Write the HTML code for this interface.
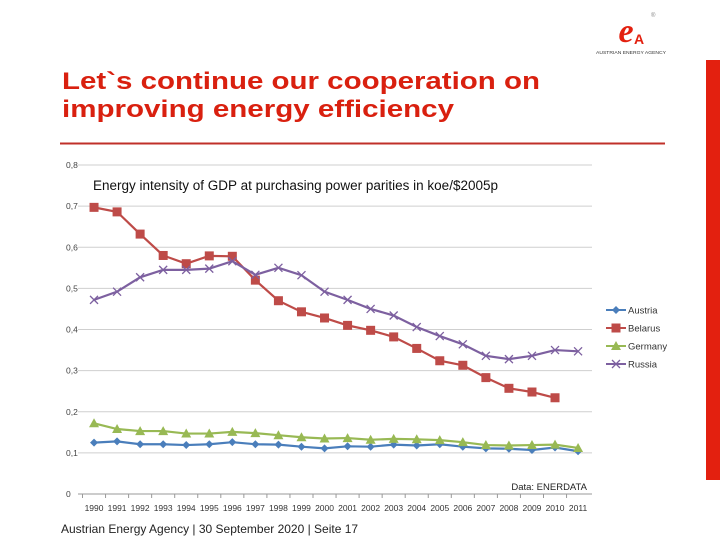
<!DOCTYPE html>
<html><head><meta charset="utf-8"><style>
html,body{margin:0;padding:0;background:#fff;}
svg{display:block;font-family:"Liberation Sans",sans-serif;}
</style></head><body>
<svg id="chart" width="720" height="540" viewBox="0 0 720 540">
  <rect x="706" y="60" width="14" height="420" fill="#e3200f"/>
  <g>
    <text x="626" y="42" font-family="Liberation Serif,serif" font-style="italic" font-weight="bold" font-size="34" fill="#e3200f" text-anchor="middle">e</text>
    <text x="634" y="44" font-weight="bold" font-size="14" fill="#e3200f">A</text>
    <text x="651" y="17" font-size="6" fill="#888">®</text>
    <text x="631" y="54" font-size="4.6" fill="#333" text-anchor="middle" textLength="70" lengthAdjust="spacingAndGlyphs">AUSTRIAN ENERGY AGENCY</text>
  </g>
  <g fill="#d9200f" font-weight="bold" font-size="24">
    <text x="62" y="89" textLength="478" lengthAdjust="spacingAndGlyphs">Let`s continue our cooperation on</text>
    <text x="62" y="117" textLength="392" lengthAdjust="spacingAndGlyphs">improving energy efficiency</text>
  </g>
  <line x1="60" y1="143.5" x2="665" y2="143.5" stroke="#c0302a" stroke-width="2"/>
  <g id="grid"></g>
  <g id="marks"></g>
  <text x="93" y="190" font-size="13.5" fill="#111">Energy intensity of GDP at purchasing power parities in koe/$2005p</text>
  <text x="587" y="490" font-size="9.5" fill="#222" text-anchor="end">Data: ENERDATA</text>
  <g id="legend"></g>
  <text x="61" y="533" font-size="12" fill="#222">Austrian Energy Agency  | 30 September 2020 | Seite 17</text>
</svg>
<script>
const years = ["1990","1991","1992","1993","1994","1995","1996","1997","1998","1999","2000","2001","2002","2003","2004","2005","2006","2007","2008","2009","2010","2011"];
const yTicks = [0,0.1,0.2,0.3,0.4,0.5,0.6,0.7,0.8];
const yTickLabels = ["0","0,1","0,2","0,3","0,4","0,5","0,6","0,7","0,8"];
const austria = [0.125,0.128,0.121,0.121,0.119,0.121,0.126,0.121,0.120,0.115,0.111,0.116,0.115,0.120,0.118,0.121,0.115,0.111,0.110,0.107,0.113,0.104];
const belarus = [0.697,0.686,0.632,0.580,0.560,0.579,0.578,0.520,0.470,0.443,0.428,0.410,0.398,0.382,0.354,0.324,0.313,0.283,0.257,0.248,0.234,null];
const germany = [0.172,0.158,0.153,0.153,0.147,0.147,0.151,0.148,0.143,0.138,0.135,0.136,0.132,0.134,0.133,0.131,0.126,0.119,0.118,0.119,0.120,0.112];
const russia = [0.472,0.492,0.527,0.545,0.545,0.548,0.566,0.533,0.550,0.532,0.492,0.472,0.450,0.434,0.406,0.384,0.364,0.336,0.328,0.336,0.350,0.347];
const seriesNames = ["Austria","Belarus","Germany","Russia"];

const NS="http://www.w3.org/2000/svg";
const X0=82.5,X1=589.6,GX0=78,GX1=592,Y0=494,Y1=165,YMAX=0.8;
const step=(X1-X0)/years.length;
function xs(i){return X0+step*(i+0.5);}
function ys(v){return Y0-(v/YMAX)*(Y0-Y1);}
function mk(tag,attrs,parent){const e=document.createElementNS(NS,tag);for(const k in attrs)e.setAttribute(k,attrs[k]);parent.appendChild(e);return e;}
const grid=document.getElementById('grid'),marks=document.getElementById('marks'),legend=document.getElementById('legend');
yTicks.forEach((t,i)=>{
  const l=mk('line',{x1:GX0,x2:GX1,y1:ys(t),y2:ys(t),stroke:i===0?'#999':'#cfcfcf','stroke-width':1},grid);
  
  
  const tx=mk('text',{x:66,y:ys(t)+3,'font-size':8.5,fill:'#444'},grid);
  tx.textContent=yTickLabels[i];
  
  
});
years.forEach((y,i)=>{
  const tk=mk('line',{x1:X0+step*i,x2:X0+step*i,y1:Y0,y2:Y0+4,stroke:'#999'},grid);
  
  
  const tx=mk('text',{x:xs(i),y:511,'font-size':8.5,fill:'#333','text-anchor':'middle'},grid);
  tx.textContent=y;
  
  
});
function marker(type,x,y,color,g){
  if(type==='diamond')return mk('path',{d:`M${x},${y-4}L${x+4},${y}L${x},${y+4}L${x-4},${y}Z`,fill:color},g);
  if(type==='square')return mk('rect',{x:x-4.5,y:y-4.5,width:9,height:9,fill:color},g);
  if(type==='triangle')return mk('path',{d:`M${x},${y-5}L${x+5},${y+4}L${x-5},${y+4}Z`,fill:color},g);
  return mk('path',{d:`M${x-4},${y-4}L${x+4},${y+4}M${x-4},${y+4}L${x+4},${y-4}`,stroke:color,'stroke-width':1.3,fill:'none'},g);
}
const defs=[[austria,'#4a7ebb','diamond'],[belarus,'#be4b48','square'],[germany,'#98b954','triangle'],[russia,'#7d60a0','x']];
defs.forEach(([data,color,type],si)=>{
  const g=mk('g',{},marks);
  
  
  let d='';data.forEach((v,i)=>{if(v==null)return;d+=(d?'L':'M')+xs(i)+','+ys(v);});
  mk('path',{d:d,stroke:color,'stroke-width':2.2,fill:'none'},g);
  data.forEach((v,i)=>{if(v==null)return;const m=marker(type,xs(i),ys(v),color,g);
    
    });
  const ly=310+si*18;
  const lg=mk('g',{},legend);
  
  
  mk('line',{x1:606,x2:626,y1:ly,y2:ly,stroke:color,'stroke-width':2},lg);
  marker(type,616,ly,color,lg);
  const t=mk('text',{x:628,y:ly+3.5,'font-size':9.5,fill:'#333'},lg);t.textContent=seriesNames[si];
});
</script>
</body></html>
